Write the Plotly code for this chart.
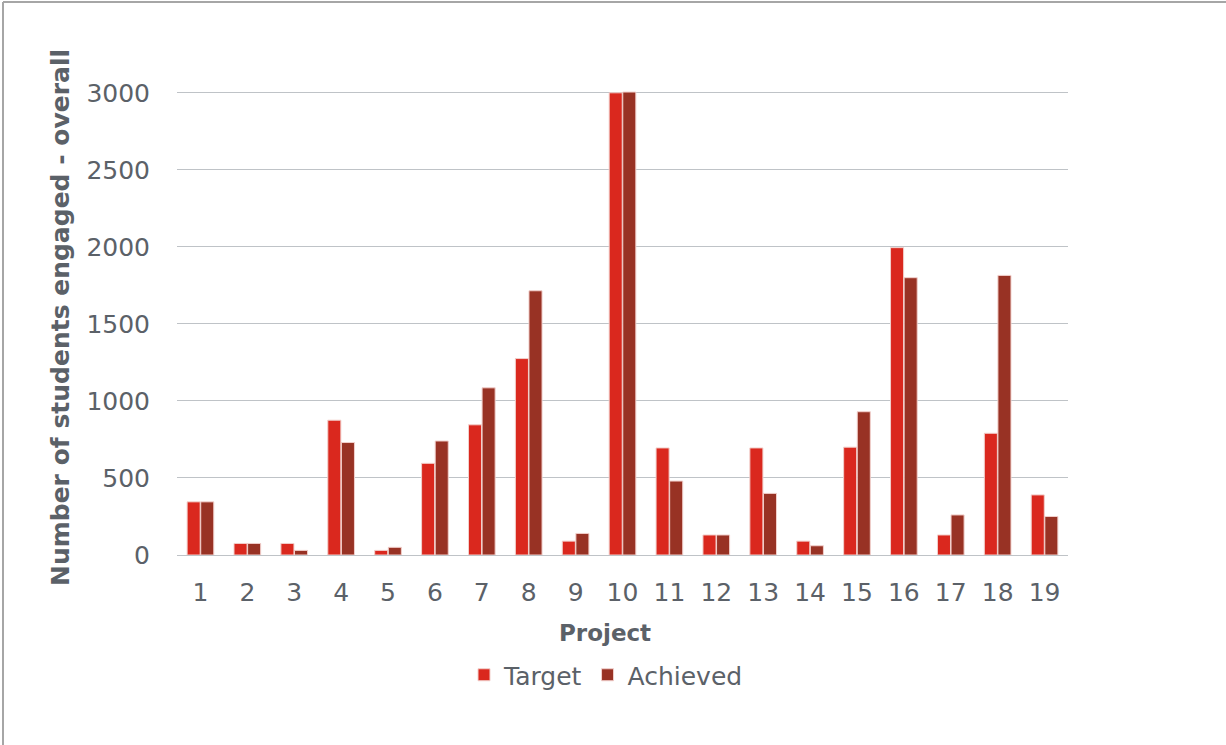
import plotly.graph_objects as go

projects = [str(i) for i in range(1, 20)]
target = [345, 75, 75, 875, 30, 595, 845, 1275, 90, 3000, 695, 130, 695, 90, 700, 1995, 130, 790, 390]
achieved = [345, 75, 30, 730, 50, 740, 1085, 1715, 140, 3005, 480, 130, 400, 60, 930, 1800, 260, 1815, 250]

FONT = "DejaVu Sans"
TXT = "#5b6168"

fig = go.Figure()
fig.add_trace(go.Bar(x=projects, y=target, name="Target",
                     marker=dict(color="#DA281E", line=dict(color="#f2d0cc", width=1))))
fig.add_trace(go.Bar(x=projects, y=achieved, name="Achieved",
                     marker=dict(color="#983224", line=dict(color="#f2d0cc", width=1))))

L, R, T, B = 177, 158, 62, 190
W, H = 1226, 745
pw, ph = W - L - R, H - T - B

fig.update_layout(
    width=W, height=H,
    margin=dict(l=L, r=R, t=T, b=B, pad=0),
    paper_bgcolor="white", plot_bgcolor="white",
    barmode="group", bargap=0.42, bargroupgap=0.04,
    font=dict(family=FONT, color=TXT),
    showlegend=True,
    legend=dict(orientation="h", x=(606 - L) / pw, xanchor="center",
                y=(555 - 675) / ph, yanchor="middle",
                font=dict(size=25, color=TXT), itemwidth=30,
                traceorder="normal"),
    xaxis=dict(type="category", showgrid=False, showline=False, zeroline=False,
               tickfont=dict(size=25, color=TXT), ticks="", ticklabelstandoff=20),
    yaxis=dict(range=[0, 3200], tickvals=[0, 500, 1000, 1500, 2000, 2500, 3000],
               showgrid=True, gridcolor="#BFC3C7", gridwidth=1,
               zeroline=True, zerolinecolor="#BFC3C7", zerolinewidth=1,
               showline=False, ticks="",
               tickfont=dict(size=25, color=TXT), ticklabelstandoff=26),
    annotations=[
        dict(text="<b>Project</b>", xref="paper", yref="paper",
             x=(605 - L) / pw, y=(555 - 633) / ph, xanchor="center", yanchor="middle",
             showarrow=False, font=dict(size=23, color=TXT)),
        dict(text="<b>Number of students engaged - overall</b>", xref="paper", yref="paper",
             x=(60 - L) / pw, y=(555 - 318) / ph, xanchor="center", yanchor="middle",
             textangle=-90, showarrow=False, font=dict(size=25, color=TXT)),
    ],
)

# frame lines (left and top edge of the outer box)
fig.add_shape(type="line", xref="paper", yref="paper",
              x0=(3 - L) / pw, x1=(3 - L) / pw, y0=(555 - 745) / ph, y1=(555 - 2) / ph,
              line=dict(color="#A6A6A6", width=2))
fig.add_shape(type="line", xref="paper", yref="paper",
              x0=(3 - L) / pw, x1=(1226 - L) / pw, y0=(555 - 2) / ph, y1=(555 - 2) / ph,
              line=dict(color="#A6A6A6", width=2))

fig.write_html("out.html", config={"displayModeBar": False},
               post_script="document.body.style.margin='0';")
